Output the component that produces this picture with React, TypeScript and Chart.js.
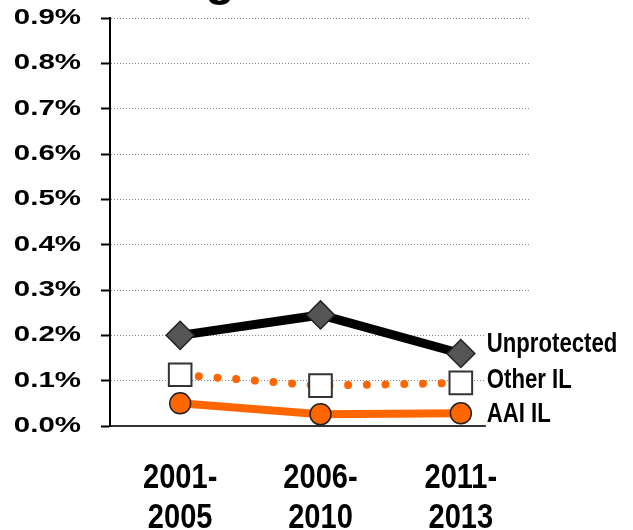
import React, { useEffect, useRef } from 'react';
import { Chart, registerables, CategoryScale, LinearScale } from 'chart.js';

Chart.register(...registerables);

const categories = [['2001-', '2005'], ['2006-', '2010'], ['2011-', '2013']];
const unprotected = [0.2, 0.245, 0.16];
const otherIL = [0.113, 0.089, 0.095];
const aaiIL = [0.05, 0.026, 0.028];
const seriesNames = ['Unprotected', 'Other IL', 'AAI IL'];
const yMin = 0;
const yMax = 0.9;
const yStep = 0.1;
const titleFragment = 'g';

const ORANGE = '#FF6600';
const SANS = '"Liberation Sans", Arial, sans-serif';

// draw text horizontally stretched/condensed around its anchor
function withStretch(ctx: any, sx: number, fn: () => void) {
  if (sx === 1) { fn(); return; }
  const orig = ctx.fillText;
  ctx.fillText = function (text: string, x: number, y: number, mw?: number) {
    this.save();
    this.translate(x, y);
    this.scale(sx, 1);
    if (mw === undefined) orig.call(this, text, 0, 0);
    else orig.call(this, text, 0, 0, mw / sx);
    this.restore();
  };
  try { fn(); } finally { ctx.fillText = orig; }
}

class StretchCategoryScale extends (CategoryScale as any) {
  static id = 'stretchCategory';
  static defaults = (CategoryScale as any).defaults;
  drawLabels(area: any) {
    const sx = (this as any).options.ticks.stretch ?? 1;
    withStretch((this as any).ctx, sx, () => super.drawLabels(area));
  }
}

class StretchLinearScale extends (LinearScale as any) {
  static id = 'stretchLinear';
  static defaults = (LinearScale as any).defaults;
  drawLabels(area: any) {
    const sx = (this as any).options.ticks.stretch ?? 1;
    withStretch((this as any).ctx, sx, () => super.drawLabels(area));
  }
}

Chart.register(StretchCategoryScale as any, StretchLinearScale as any);

const endLabels = {
  id: 'endLabels',
  afterDatasetsDraw(chart: any) {
    const ctx = chart.ctx;
    const offsets = [-10, -3, 0];
    const sx = 0.82;
    ctx.save();
    ctx.font = 'bold 27px ' + SANS;
    ctx.textBaseline = 'middle';
    ctx.textAlign = 'left';
    chart.data.datasets.forEach((ds: any, i: number) => {
      const meta = chart.getDatasetMeta(i);
      const pt = meta.data[meta.data.length - 1];
      const x = pt.x + 26;
      const y = pt.y + offsets[i];
      const w = ctx.measureText(ds.label).width * sx;
      ctx.fillStyle = '#ffffff';
      ctx.fillRect(x - 1, y - 15, Math.max(w + 4, chart.chartArea.right - x + 3), 30);
      ctx.fillStyle = '#000000';
      withStretch(ctx, sx, () => ctx.fillText(ds.label, x, y + 1));
    });
    ctx.restore();
  },
};

const titleStub = {
  id: 'titleStub',
  afterDraw(chart: any) {
    const ctx = chart.ctx;
    ctx.save();
    ctx.font = 'bold 48px ' + SANS;
    ctx.textAlign = 'center';
    ctx.textBaseline = 'alphabetic';
    ctx.fillStyle = '#000';
    ctx.fillText(titleFragment, 220, -5);
    ctx.restore();
  },
};

export default function App() {
  const ref = useRef<HTMLCanvasElement | null>(null);

  useEffect(() => {
    if (!ref.current) return;
    const chart = new Chart(ref.current, {
      type: 'line',
      data: {
        labels: categories,
        datasets: [
          {
            label: seriesNames[0],
            data: unprotected,
            borderColor: '#000000',
            borderWidth: 9,
            pointStyle: 'rectRot',
            pointRadius: 14,
            pointBackgroundColor: '#555555',
            pointBorderColor: '#222222',
            pointBorderWidth: 1.5,
            tension: 0,
            clip: false,
          },
          {
            label: seriesNames[1],
            data: otherIL,
            borderColor: ORANGE,
            borderWidth: 8,
            borderDash: [0.01, 18.7],
            borderCapStyle: 'round',
            pointStyle: 'rect',
            pointRadius: 16,
            pointBackgroundColor: '#ffffff',
            pointBorderColor: '#333333',
            pointBorderWidth: 2,
            tension: 0,
            clip: false,
          },
          {
            label: seriesNames[2],
            data: aaiIL,
            borderColor: ORANGE,
            borderWidth: 8,
            pointStyle: 'circle',
            pointRadius: 10.5,
            pointBackgroundColor: ORANGE,
            pointBorderColor: '#222222',
            pointBorderWidth: 1.5,
            tension: 0,
            clip: false,
          },
        ],
      } as any,
      options: {
        animation: false,
        responsive: false,
        maintainAspectRatio: false,
        layout: { padding: { left: 0, right: 102, top: 15, bottom: 0 } },
        plugins: {
          legend: { display: false },
          tooltip: { enabled: false },
          title: { display: false },
        },
        scales: {
          x: {
            type: 'stretchCategory',
            offset: true,
            grid: { display: false, drawTicks: false },
            border: { display: true, color: '#333333', width: 2 },
            ticks: {
              color: '#000000',
              padding: 32,
              maxRotation: 0,
              autoSkip: false,
              stretch: 0.83,
              font: { family: SANS, weight: 'bold', size: 35, lineHeight: 1.15 },
            },
            afterFit(scale: any) {
              scale.height = 104;
            },
          },
          y: {
            type: 'stretchLinear',
            min: yMin,
            max: yMax,
            grid: {
              color: '#888888',
              lineWidth: 1,
              tickColor: '#000000',
              tickLength: 9,
              tickWidth: 2,
            },
            border: { display: true, color: '#000000', width: 2, dash: [1, 2] },
            ticks: {
              stepSize: yStep,
              color: '#000000',
              padding: 20,
              stretch: 1.34,
              font: { family: SANS, weight: 'bold', size: 22 },
              callback: (v: any) => Number(v).toFixed(1) + '%',
            },
            afterFit(scale: any) {
              scale.width = 110;
              scale.paddingTop = 0;
              scale.paddingBottom = 0;
            },
          },
        },
      } as any,
      plugins: [endLabels, titleStub],
    });
    return () => chart.destroy();
  }, []);

  return (
    <div style={{ position: 'absolute', left: 0, top: 0, width: 633, height: 530, background: '#fff' }}>
      <canvas ref={ref} width={633} height={530} style={{ display: 'block' }} />
    </div>
  );
}
